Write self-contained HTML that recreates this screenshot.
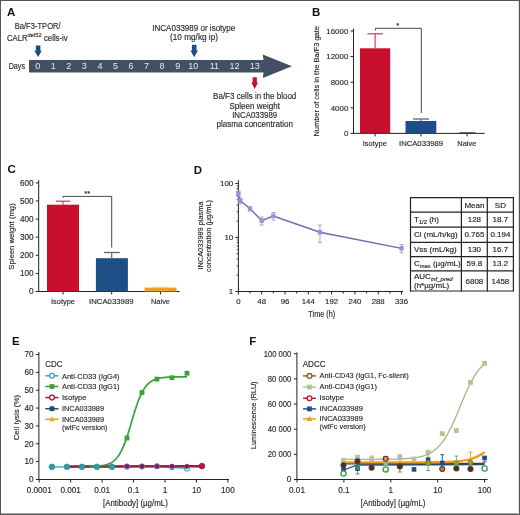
<!DOCTYPE html>
<html><head><meta charset="utf-8"><style>
html,body{margin:0;padding:0;background:#fff;}
body{width:520px;height:515px;overflow:hidden;font-family:"Liberation Sans", sans-serif;}
.frame{position:absolute;left:0;top:0;width:520px;height:515px;box-sizing:border-box;border:1px solid #555;}
.fb{position:absolute;left:0;top:513px;width:520px;height:1px;background:#aaa;}
.fr{position:absolute;left:518px;top:0;width:1px;height:515px;background:#ddd;}
svg{position:absolute;left:0;top:0;will-change:transform;}
</style></head><body>
<svg width="520" height="515" viewBox="0 0 520 515" font-family='"Liberation Sans", sans-serif'><text x="6.90" y="15.80" font-size="11.5" text-anchor="start" fill="#111" font-weight="bold" >A</text>
<text x="37.70" y="29.30" font-size="8.5" text-anchor="middle" fill="#2a2a2a" stroke="#2a2a2a" stroke-width="0.15" textLength="46" lengthAdjust="spacingAndGlyphs" >Ba/F3-TPOR/</text>
<text x="6.9" y="40.6" font-size="8.3" fill="#2a2a2a" stroke="#2a2a2a" stroke-width="0.15" textLength="60.8" lengthAdjust="spacingAndGlyphs">CALR<tspan font-size="6.2" dy="-3.3">del52</tspan><tspan dy="3.3"> cells-iv</tspan></text>
<path d="M35.80,45.60 L40.40,45.60 L40.40,50.73 L41.80,50.73 L38.10,57.00 L34.40,50.73 L35.80,50.73 Z" fill="#1d4f86" stroke="none" stroke-width="1" />
<path d="M29,60 L263.5,60 L262.8,54.4 L292,66.2 L262.8,78 L263.5,72.5 L29,72.5 Z" fill="#435063" stroke="none" stroke-width="1" />
<text x="8.70" y="69.20" font-size="8.3" text-anchor="start" fill="#2a2a2a" stroke="#2a2a2a" stroke-width="0.15" textLength="16.3" lengthAdjust="spacingAndGlyphs" >Days</text>
<text x="37.70" y="69.30" font-size="9" text-anchor="middle" fill="#e6e9ee" >0</text>
<text x="53.25" y="69.30" font-size="9" text-anchor="middle" fill="#e6e9ee" >1</text>
<text x="68.80" y="69.30" font-size="9" text-anchor="middle" fill="#e6e9ee" >2</text>
<text x="84.35" y="69.30" font-size="9" text-anchor="middle" fill="#e6e9ee" >3</text>
<text x="99.90" y="69.30" font-size="9" text-anchor="middle" fill="#e6e9ee" >4</text>
<text x="115.45" y="69.30" font-size="9" text-anchor="middle" fill="#e6e9ee" >5</text>
<text x="131.00" y="69.30" font-size="9" text-anchor="middle" fill="#e6e9ee" >6</text>
<text x="146.55" y="69.30" font-size="9" text-anchor="middle" fill="#e6e9ee" >7</text>
<text x="162.10" y="69.30" font-size="9" text-anchor="middle" fill="#e6e9ee" >8</text>
<text x="177.65" y="69.30" font-size="9" text-anchor="middle" fill="#e6e9ee" >9</text>
<text x="193.20" y="69.30" font-size="9" text-anchor="middle" fill="#e6e9ee" >10</text>
<text x="214.40" y="69.30" font-size="9" text-anchor="middle" fill="#e6e9ee" >11</text>
<text x="234.60" y="69.30" font-size="9" text-anchor="middle" fill="#e6e9ee" >12</text>
<text x="254.70" y="69.30" font-size="9" text-anchor="middle" fill="#e6e9ee" >13</text>
<text x="193.80" y="30.80" font-size="8.3" text-anchor="middle" fill="#2a2a2a" stroke="#2a2a2a" stroke-width="0.15" textLength="83" lengthAdjust="spacingAndGlyphs" >INCA033989 or isotype</text>
<text x="194.00" y="40.00" font-size="8.3" text-anchor="middle" fill="#2a2a2a" stroke="#2a2a2a" stroke-width="0.15" textLength="48" lengthAdjust="spacingAndGlyphs" >(10 mg/kg ip)</text>
<path d="M191.90,44.80 L196.50,44.80 L196.50,50.42 L197.90,50.42 L194.20,57.30 L190.50,50.42 L191.90,50.42 Z" fill="#1d4f86" stroke="none" stroke-width="1" />
<path d="M252.60,77.30 L256.80,77.30 L256.80,82.56 L258.00,82.56 L254.70,89.00 L251.40,82.56 L252.60,82.56 Z" fill="#c8102e" stroke="none" stroke-width="1" />
<text x="254.70" y="99.00" font-size="8.3" text-anchor="middle" fill="#2a2a2a" stroke="#2a2a2a" stroke-width="0.15" textLength="83.2" lengthAdjust="spacingAndGlyphs" >Ba/F3 cells in the blood</text>
<text x="254.70" y="109.20" font-size="8.3" text-anchor="middle" fill="#2a2a2a" stroke="#2a2a2a" stroke-width="0.15" textLength="50.4" lengthAdjust="spacingAndGlyphs" >Spleen weight</text>
<text x="254.70" y="118.20" font-size="8.3" text-anchor="middle" fill="#2a2a2a" stroke="#2a2a2a" stroke-width="0.15" textLength="45" lengthAdjust="spacingAndGlyphs" >INCA033989</text>
<text x="254.70" y="127.00" font-size="8.3" text-anchor="middle" fill="#2a2a2a" stroke="#2a2a2a" stroke-width="0.15" textLength="76.5" lengthAdjust="spacingAndGlyphs" >plasma concentration</text>
<text x="312.00" y="16.00" font-size="11.5" text-anchor="start" fill="#111" font-weight="bold" >B</text>
<line x1="353.50" y1="28.60" x2="353.50" y2="133.90" stroke="#222" stroke-width="1" />
<line x1="350.50" y1="133.40" x2="353.50" y2="133.40" stroke="#222" stroke-width="1" />
<text x="348.30" y="136.10" font-size="7.9" text-anchor="end" fill="#2a2a2a" stroke="#2a2a2a" stroke-width="0.15" >0</text>
<line x1="350.50" y1="107.80" x2="353.50" y2="107.80" stroke="#222" stroke-width="1" />
<text x="348.30" y="110.50" font-size="7.9" text-anchor="end" fill="#2a2a2a" stroke="#2a2a2a" stroke-width="0.15" >4000</text>
<line x1="350.50" y1="82.20" x2="353.50" y2="82.20" stroke="#222" stroke-width="1" />
<text x="348.30" y="84.90" font-size="7.9" text-anchor="end" fill="#2a2a2a" stroke="#2a2a2a" stroke-width="0.15" >8000</text>
<line x1="350.50" y1="56.60" x2="353.50" y2="56.60" stroke="#222" stroke-width="1" />
<text x="348.30" y="59.30" font-size="7.9" text-anchor="end" fill="#2a2a2a" stroke="#2a2a2a" stroke-width="0.15" >12000</text>
<line x1="350.50" y1="31.00" x2="353.50" y2="31.00" stroke="#222" stroke-width="1" />
<text x="348.30" y="33.70" font-size="7.9" text-anchor="end" fill="#2a2a2a" stroke="#2a2a2a" stroke-width="0.15" >16000</text>
<line x1="353.50" y1="133.40" x2="484.60" y2="133.40" stroke="#222" stroke-width="1" />
<line x1="375.10" y1="133.40" x2="375.10" y2="136.40" stroke="#222" stroke-width="1" />
<line x1="421.00" y1="133.40" x2="421.00" y2="136.40" stroke="#222" stroke-width="1" />
<line x1="467.00" y1="133.40" x2="467.00" y2="136.40" stroke="#222" stroke-width="1" />
<rect x="360.00" y="48.30" width="30.20" height="85.10" fill="#c8102e" />
<line x1="375.10" y1="48.30" x2="375.10" y2="33.80" stroke="#d4405e" stroke-width="1.2" />
<line x1="367.40" y1="33.80" x2="382.80" y2="33.80" stroke="#d4405e" stroke-width="1.3" />
<rect x="405.50" y="121.00" width="30.80" height="12.40" fill="#1d4f86" />
<line x1="421.00" y1="121.00" x2="421.00" y2="119.00" stroke="#56677f" stroke-width="1.2" />
<line x1="413.00" y1="119.00" x2="429.00" y2="119.00" stroke="#56677f" stroke-width="1.3" />
<line x1="459.40" y1="132.90" x2="475.40" y2="132.90" stroke="#333" stroke-width="1.2" />
<path d="M375.4,30.5 L375.4,28.3 L421.3,28.3 L421.3,113" fill="none" stroke="#333" stroke-width="0.9" />
<text x="397.60" y="28.00" font-size="7.5" text-anchor="middle" fill="#2a2a2a" stroke="#2a2a2a" stroke-width="0.15" >*</text>
<text x="374.80" y="146.00" font-size="7.5" text-anchor="middle" fill="#2a2a2a" stroke="#2a2a2a" stroke-width="0.15" textLength="24" lengthAdjust="spacingAndGlyphs" >Isotype</text>
<text x="421.00" y="146.00" font-size="7.5" text-anchor="middle" fill="#2a2a2a" stroke="#2a2a2a" stroke-width="0.15" textLength="44" lengthAdjust="spacingAndGlyphs" >INCA033989</text>
<text x="466.80" y="146.00" font-size="7.5" text-anchor="middle" fill="#2a2a2a" stroke="#2a2a2a" stroke-width="0.15" textLength="19" lengthAdjust="spacingAndGlyphs" >Naive</text>
<text x="318.90" y="81.30" font-size="8" text-anchor="middle" fill="#2a2a2a" stroke="#2a2a2a" stroke-width="0.15" textLength="110.5" lengthAdjust="spacingAndGlyphs" transform="rotate(-90 318.90 81.30)" >Number of cells in the Ba/F3 gate</text>
<text x="7.40" y="173.00" font-size="11.5" text-anchor="start" fill="#111" font-weight="bold" >C</text>
<line x1="38.70" y1="180.20" x2="38.70" y2="292.00" stroke="#222" stroke-width="1" />
<line x1="35.70" y1="291.50" x2="38.70" y2="291.50" stroke="#222" stroke-width="1" />
<text x="33.60" y="294.30" font-size="8.2" text-anchor="end" fill="#2a2a2a" stroke="#2a2a2a" stroke-width="0.15" >0</text>
<line x1="35.70" y1="273.40" x2="38.70" y2="273.40" stroke="#222" stroke-width="1" />
<text x="33.60" y="276.20" font-size="8.2" text-anchor="end" fill="#2a2a2a" stroke="#2a2a2a" stroke-width="0.15" >100</text>
<line x1="35.70" y1="255.30" x2="38.70" y2="255.30" stroke="#222" stroke-width="1" />
<text x="33.60" y="258.10" font-size="8.2" text-anchor="end" fill="#2a2a2a" stroke="#2a2a2a" stroke-width="0.15" >200</text>
<line x1="35.70" y1="237.20" x2="38.70" y2="237.20" stroke="#222" stroke-width="1" />
<text x="33.60" y="240.00" font-size="8.2" text-anchor="end" fill="#2a2a2a" stroke="#2a2a2a" stroke-width="0.15" >300</text>
<line x1="35.70" y1="219.10" x2="38.70" y2="219.10" stroke="#222" stroke-width="1" />
<text x="33.60" y="221.90" font-size="8.2" text-anchor="end" fill="#2a2a2a" stroke="#2a2a2a" stroke-width="0.15" >400</text>
<line x1="35.70" y1="201.00" x2="38.70" y2="201.00" stroke="#222" stroke-width="1" />
<text x="33.60" y="203.80" font-size="8.2" text-anchor="end" fill="#2a2a2a" stroke="#2a2a2a" stroke-width="0.15" >500</text>
<line x1="35.70" y1="182.90" x2="38.70" y2="182.90" stroke="#222" stroke-width="1" />
<text x="33.60" y="185.70" font-size="8.2" text-anchor="end" fill="#2a2a2a" stroke="#2a2a2a" stroke-width="0.15" >600</text>
<line x1="38.70" y1="291.50" x2="179.60" y2="291.50" stroke="#222" stroke-width="1" />
<line x1="63.00" y1="291.50" x2="63.00" y2="294.50" stroke="#222" stroke-width="1" />
<line x1="111.70" y1="291.50" x2="111.70" y2="294.50" stroke="#222" stroke-width="1" />
<line x1="160.50" y1="291.50" x2="160.50" y2="294.50" stroke="#222" stroke-width="1" />
<rect x="47.00" y="204.70" width="32.00" height="86.80" fill="#c8102e" />
<line x1="63.00" y1="204.70" x2="63.00" y2="201.10" stroke="#d4405e" stroke-width="1.2" />
<line x1="55.80" y1="201.20" x2="70.40" y2="201.20" stroke="#d4405e" stroke-width="1.3" />
<rect x="95.90" y="258.20" width="32.00" height="33.30" fill="#1d4f86" />
<line x1="111.70" y1="258.20" x2="111.70" y2="252.50" stroke="#56677f" stroke-width="1.2" />
<line x1="104.00" y1="252.50" x2="119.80" y2="252.50" stroke="#56677f" stroke-width="1.3" />
<rect x="144.60" y="287.60" width="31.90" height="3.90" fill="#eea024" />
<line x1="152.30" y1="287.20" x2="168.70" y2="287.20" stroke="#f3c070" stroke-width="0.8" />
<path d="M63,197.8 L63,196.4 L111.7,196.4 L111.7,247.6" fill="none" stroke="#333" stroke-width="0.9" />
<text x="87.20" y="196.00" font-size="7.5" text-anchor="middle" fill="#2a2a2a" stroke="#2a2a2a" stroke-width="0.15" >**</text>
<text x="63.00" y="304.40" font-size="7.5" text-anchor="middle" fill="#2a2a2a" stroke="#2a2a2a" stroke-width="0.15" textLength="24" lengthAdjust="spacingAndGlyphs" >Isotype</text>
<text x="111.30" y="304.40" font-size="7.5" text-anchor="middle" fill="#2a2a2a" stroke="#2a2a2a" stroke-width="0.15" textLength="44.5" lengthAdjust="spacingAndGlyphs" >INCA033989</text>
<text x="160.50" y="304.40" font-size="7.5" text-anchor="middle" fill="#2a2a2a" stroke="#2a2a2a" stroke-width="0.15" textLength="19" lengthAdjust="spacingAndGlyphs" >Naive</text>
<text x="14.20" y="236.50" font-size="8" text-anchor="middle" fill="#2a2a2a" stroke="#2a2a2a" stroke-width="0.15" textLength="66.4" lengthAdjust="spacingAndGlyphs" transform="rotate(-90 14.20 236.50)" >Spleen weight (mg)</text>
<text x="193.80" y="173.50" font-size="11.5" text-anchor="start" fill="#111" font-weight="bold" >D</text>
<line x1="238.40" y1="180.20" x2="238.40" y2="292.00" stroke="#222" stroke-width="1" />
<line x1="235.40" y1="291.50" x2="238.40" y2="291.50" stroke="#222" stroke-width="1" />
<line x1="235.40" y1="237.50" x2="238.40" y2="237.50" stroke="#222" stroke-width="1" />
<line x1="235.40" y1="183.50" x2="238.40" y2="183.50" stroke="#222" stroke-width="1" />
<line x1="236.60" y1="275.24" x2="238.40" y2="275.24" stroke="#222" stroke-width="0.8" />
<line x1="236.60" y1="265.74" x2="238.40" y2="265.74" stroke="#222" stroke-width="0.8" />
<line x1="236.60" y1="258.99" x2="238.40" y2="258.99" stroke="#222" stroke-width="0.8" />
<line x1="236.60" y1="253.76" x2="238.40" y2="253.76" stroke="#222" stroke-width="0.8" />
<line x1="236.60" y1="249.48" x2="238.40" y2="249.48" stroke="#222" stroke-width="0.8" />
<line x1="236.60" y1="245.86" x2="238.40" y2="245.86" stroke="#222" stroke-width="0.8" />
<line x1="236.60" y1="242.73" x2="238.40" y2="242.73" stroke="#222" stroke-width="0.8" />
<line x1="236.60" y1="239.97" x2="238.40" y2="239.97" stroke="#222" stroke-width="0.8" />
<line x1="236.60" y1="221.24" x2="238.40" y2="221.24" stroke="#222" stroke-width="0.8" />
<line x1="236.60" y1="211.74" x2="238.40" y2="211.74" stroke="#222" stroke-width="0.8" />
<line x1="236.60" y1="204.99" x2="238.40" y2="204.99" stroke="#222" stroke-width="0.8" />
<line x1="236.60" y1="199.76" x2="238.40" y2="199.76" stroke="#222" stroke-width="0.8" />
<line x1="236.60" y1="195.48" x2="238.40" y2="195.48" stroke="#222" stroke-width="0.8" />
<line x1="236.60" y1="191.86" x2="238.40" y2="191.86" stroke="#222" stroke-width="0.8" />
<line x1="236.60" y1="188.73" x2="238.40" y2="188.73" stroke="#222" stroke-width="0.8" />
<line x1="236.60" y1="185.97" x2="238.40" y2="185.97" stroke="#222" stroke-width="0.8" />
<text x="233.30" y="186.30" font-size="8" text-anchor="end" fill="#2a2a2a" stroke="#2a2a2a" stroke-width="0.15" >100</text>
<text x="233.30" y="240.30" font-size="8" text-anchor="end" fill="#2a2a2a" stroke="#2a2a2a" stroke-width="0.15" >10</text>
<text x="233.30" y="294.30" font-size="8" text-anchor="end" fill="#2a2a2a" stroke="#2a2a2a" stroke-width="0.15" >1</text>
<line x1="238.40" y1="291.50" x2="403.00" y2="291.50" stroke="#222" stroke-width="1" />
<line x1="238.40" y1="291.50" x2="238.40" y2="294.50" stroke="#222" stroke-width="1" />
<text x="238.40" y="304.40" font-size="7.8" text-anchor="middle" fill="#2a2a2a" stroke="#2a2a2a" stroke-width="0.15" >0</text>
<line x1="250.05" y1="291.50" x2="250.05" y2="293.50" stroke="#222" stroke-width="1" />
<line x1="261.70" y1="291.50" x2="261.70" y2="294.50" stroke="#222" stroke-width="1" />
<text x="261.70" y="304.40" font-size="7.8" text-anchor="middle" fill="#2a2a2a" stroke="#2a2a2a" stroke-width="0.15" >48</text>
<line x1="273.35" y1="291.50" x2="273.35" y2="293.50" stroke="#222" stroke-width="1" />
<line x1="285.00" y1="291.50" x2="285.00" y2="294.50" stroke="#222" stroke-width="1" />
<text x="285.00" y="304.40" font-size="7.8" text-anchor="middle" fill="#2a2a2a" stroke="#2a2a2a" stroke-width="0.15" >96</text>
<line x1="296.65" y1="291.50" x2="296.65" y2="293.50" stroke="#222" stroke-width="1" />
<line x1="308.30" y1="291.50" x2="308.30" y2="294.50" stroke="#222" stroke-width="1" />
<text x="308.30" y="304.40" font-size="7.8" text-anchor="middle" fill="#2a2a2a" stroke="#2a2a2a" stroke-width="0.15" >144</text>
<line x1="319.95" y1="291.50" x2="319.95" y2="293.50" stroke="#222" stroke-width="1" />
<line x1="331.60" y1="291.50" x2="331.60" y2="294.50" stroke="#222" stroke-width="1" />
<text x="331.60" y="304.40" font-size="7.8" text-anchor="middle" fill="#2a2a2a" stroke="#2a2a2a" stroke-width="0.15" >192</text>
<line x1="343.25" y1="291.50" x2="343.25" y2="293.50" stroke="#222" stroke-width="1" />
<line x1="354.90" y1="291.50" x2="354.90" y2="294.50" stroke="#222" stroke-width="1" />
<text x="354.90" y="304.40" font-size="7.8" text-anchor="middle" fill="#2a2a2a" stroke="#2a2a2a" stroke-width="0.15" >240</text>
<line x1="366.55" y1="291.50" x2="366.55" y2="293.50" stroke="#222" stroke-width="1" />
<line x1="378.20" y1="291.50" x2="378.20" y2="294.50" stroke="#222" stroke-width="1" />
<text x="378.20" y="304.40" font-size="7.8" text-anchor="middle" fill="#2a2a2a" stroke="#2a2a2a" stroke-width="0.15" >288</text>
<line x1="389.85" y1="291.50" x2="389.85" y2="293.50" stroke="#222" stroke-width="1" />
<line x1="401.50" y1="291.50" x2="401.50" y2="294.50" stroke="#222" stroke-width="1" />
<text x="401.50" y="304.40" font-size="7.8" text-anchor="middle" fill="#2a2a2a" stroke="#2a2a2a" stroke-width="0.15" >336</text>
<text x="321.80" y="316.70" font-size="8.7" text-anchor="middle" fill="#2a2a2a" stroke="#2a2a2a" stroke-width="0.15" textLength="27" lengthAdjust="spacingAndGlyphs" >Time (h)</text>
<text x="202.80" y="235.50" font-size="7.8" text-anchor="middle" fill="#2a2a2a" stroke="#2a2a2a" stroke-width="0.15" textLength="68" lengthAdjust="spacingAndGlyphs" transform="rotate(-90 202.80 235.50)" >INCA033989 plasma</text>
<text x="210.60" y="236.00" font-size="7.8" text-anchor="middle" fill="#2a2a2a" stroke="#2a2a2a" stroke-width="0.15" textLength="72" lengthAdjust="spacingAndGlyphs" transform="rotate(-90 210.60 236.00)" >concentration (µg/mL)</text>
<path d="M238.40,193.60 L240.34,200.71 L250.05,208.80 L261.70,220.67 L273.35,216.01 L319.95,232.27 L401.50,248.34" fill="none" stroke="#6a6aae" stroke-width="1.4" />
<line x1="238.40" y1="190.88" x2="238.40" y2="196.68" stroke="#9a9ad6" stroke-width="0.9" />
<line x1="236.40" y1="190.88" x2="240.40" y2="190.88" stroke="#9a9ad6" stroke-width="0.9" />
<line x1="236.40" y1="196.68" x2="240.40" y2="196.68" stroke="#9a9ad6" stroke-width="0.9" />
<rect x="236.20" y="191.40" width="4.40" height="4.40" fill="#9494d6" />
<line x1="240.34" y1="197.95" x2="240.34" y2="203.84" stroke="#9a9ad6" stroke-width="0.9" />
<line x1="238.34" y1="197.95" x2="242.34" y2="197.95" stroke="#9a9ad6" stroke-width="0.9" />
<line x1="238.34" y1="203.84" x2="242.34" y2="203.84" stroke="#9a9ad6" stroke-width="0.9" />
<rect x="238.14" y="198.51" width="4.40" height="4.40" fill="#9494d6" />
<line x1="250.05" y1="206.82" x2="250.05" y2="210.97" stroke="#9a9ad6" stroke-width="0.9" />
<line x1="248.05" y1="206.82" x2="252.05" y2="206.82" stroke="#9a9ad6" stroke-width="0.9" />
<line x1="248.05" y1="210.97" x2="252.05" y2="210.97" stroke="#9a9ad6" stroke-width="0.9" />
<rect x="247.85" y="206.60" width="4.40" height="4.40" fill="#9494d6" />
<line x1="261.70" y1="216.97" x2="261.70" y2="225.06" stroke="#9a9ad6" stroke-width="0.9" />
<line x1="259.70" y1="216.97" x2="263.70" y2="216.97" stroke="#9a9ad6" stroke-width="0.9" />
<line x1="259.70" y1="225.06" x2="263.70" y2="225.06" stroke="#9a9ad6" stroke-width="0.9" />
<rect x="259.50" y="218.47" width="4.40" height="4.40" fill="#9494d6" />
<line x1="273.35" y1="212.53" x2="273.35" y2="220.10" stroke="#9a9ad6" stroke-width="0.9" />
<line x1="271.35" y1="212.53" x2="275.35" y2="212.53" stroke="#9a9ad6" stroke-width="0.9" />
<line x1="271.35" y1="220.10" x2="275.35" y2="220.10" stroke="#9a9ad6" stroke-width="0.9" />
<rect x="271.15" y="213.81" width="4.40" height="4.40" fill="#9494d6" />
<line x1="319.95" y1="225.06" x2="319.95" y2="242.73" stroke="#9a9ad6" stroke-width="0.9" />
<line x1="317.95" y1="225.06" x2="321.95" y2="225.06" stroke="#9a9ad6" stroke-width="0.9" />
<line x1="317.95" y1="242.73" x2="321.95" y2="242.73" stroke="#9a9ad6" stroke-width="0.9" />
<rect x="317.75" y="230.07" width="4.40" height="4.40" fill="#9494d6" />
<line x1="401.50" y1="244.56" x2="401.50" y2="252.84" stroke="#9a9ad6" stroke-width="0.9" />
<line x1="399.50" y1="244.56" x2="403.50" y2="244.56" stroke="#9a9ad6" stroke-width="0.9" />
<line x1="399.50" y1="252.84" x2="403.50" y2="252.84" stroke="#9a9ad6" stroke-width="0.9" />
<rect x="399.30" y="246.14" width="4.40" height="4.40" fill="#9494d6" />
<line x1="410.50" y1="197.10" x2="410.50" y2="291.60" stroke="#222" stroke-width="1.2" />
<line x1="461.40" y1="197.10" x2="461.40" y2="291.60" stroke="#222" stroke-width="1.2" />
<line x1="487.30" y1="197.10" x2="487.30" y2="291.60" stroke="#222" stroke-width="1.2" />
<line x1="513.40" y1="197.10" x2="513.40" y2="291.60" stroke="#222" stroke-width="1.2" />
<line x1="410.50" y1="197.70" x2="513.40" y2="197.70" stroke="#222" stroke-width="1.2" />
<line x1="410.50" y1="212.10" x2="513.40" y2="212.10" stroke="#222" stroke-width="1.2" />
<line x1="410.50" y1="227.20" x2="513.40" y2="227.20" stroke="#222" stroke-width="1.2" />
<line x1="410.50" y1="242.30" x2="513.40" y2="242.30" stroke="#222" stroke-width="1.2" />
<line x1="410.50" y1="256.60" x2="513.40" y2="256.60" stroke="#222" stroke-width="1.2" />
<line x1="410.50" y1="270.80" x2="513.40" y2="270.80" stroke="#222" stroke-width="1.2" />
<line x1="410.50" y1="291.00" x2="513.40" y2="291.00" stroke="#222" stroke-width="1.2" />
<text x="474.40" y="208.00" font-size="8" text-anchor="middle" fill="#222" stroke="#222" stroke-width="0.15" >Mean</text>
<text x="500.40" y="208.00" font-size="8" text-anchor="middle" fill="#222" stroke="#222" stroke-width="0.15" >SD</text>
<text x="414.00" y="222.35" font-size="8" text-anchor="start" fill="#222" stroke="#222" stroke-width="0.15" >T<tspan font-size="5.8" dy="1.8">1/2</tspan><tspan dy="-1.8"> (h)</tspan></text>
<text x="474.40" y="222.35" font-size="8" text-anchor="middle" fill="#222" stroke="#222" stroke-width="0.15" >128</text>
<text x="500.40" y="222.35" font-size="8" text-anchor="middle" fill="#222" stroke="#222" stroke-width="0.15" >18.7</text>
<text x="414.00" y="237.45" font-size="8" text-anchor="start" fill="#222" stroke="#222" stroke-width="0.15" >Cl (mL/h/kg)</text>
<text x="474.40" y="237.45" font-size="8" text-anchor="middle" fill="#222" stroke="#222" stroke-width="0.15" >0.765</text>
<text x="500.40" y="237.45" font-size="8" text-anchor="middle" fill="#222" stroke="#222" stroke-width="0.15" >0.194</text>
<text x="414.00" y="252.15" font-size="8" text-anchor="start" fill="#222" stroke="#222" stroke-width="0.15" >Vss (mL/kg)</text>
<text x="474.40" y="252.15" font-size="8" text-anchor="middle" fill="#222" stroke="#222" stroke-width="0.15" >130</text>
<text x="500.40" y="252.15" font-size="8" text-anchor="middle" fill="#222" stroke="#222" stroke-width="0.15" >16.7</text>
<text x="414.00" y="266.40" font-size="8" text-anchor="start" fill="#222" stroke="#222" stroke-width="0.15" >C<tspan font-size="5.8" dy="1.8">max</tspan><tspan dy="-1.8"> (µg/mL)</tspan></text>
<text x="474.40" y="266.40" font-size="8" text-anchor="middle" fill="#222" stroke="#222" stroke-width="0.15" >59.8</text>
<text x="500.40" y="266.40" font-size="8" text-anchor="middle" fill="#222" stroke="#222" stroke-width="0.15" >13.2</text>
<text x="414.00" y="279.20" font-size="8" text-anchor="start" fill="#222" stroke="#222" stroke-width="0.15" >AUC<tspan font-size="6" dy="1.6" font-style="italic">inf_pred</tspan></text>
<text x="414.00" y="288.00" font-size="8" text-anchor="start" fill="#222" stroke="#222" stroke-width="0.15" >(h*µg/mL)</text>
<text x="474.40" y="283.50" font-size="8" text-anchor="middle" fill="#222" stroke="#222" stroke-width="0.15" >6808</text>
<text x="500.40" y="283.50" font-size="8" text-anchor="middle" fill="#222" stroke="#222" stroke-width="0.15" >1458</text>
<text x="12.00" y="344.50" font-size="11.5" text-anchor="start" fill="#111" font-weight="bold" >E</text>
<line x1="38.90" y1="352.00" x2="38.90" y2="480.00" stroke="#222" stroke-width="1" />
<line x1="35.90" y1="479.50" x2="38.90" y2="479.50" stroke="#222" stroke-width="1" />
<text x="33.60" y="482.30" font-size="8.2" text-anchor="end" fill="#2a2a2a" stroke="#2a2a2a" stroke-width="0.15" >0</text>
<line x1="35.90" y1="461.64" x2="38.90" y2="461.64" stroke="#222" stroke-width="1" />
<text x="33.60" y="464.44" font-size="8.2" text-anchor="end" fill="#2a2a2a" stroke="#2a2a2a" stroke-width="0.15" >10</text>
<line x1="35.90" y1="443.78" x2="38.90" y2="443.78" stroke="#222" stroke-width="1" />
<text x="33.60" y="446.58" font-size="8.2" text-anchor="end" fill="#2a2a2a" stroke="#2a2a2a" stroke-width="0.15" >20</text>
<line x1="35.90" y1="425.92" x2="38.90" y2="425.92" stroke="#222" stroke-width="1" />
<text x="33.60" y="428.72" font-size="8.2" text-anchor="end" fill="#2a2a2a" stroke="#2a2a2a" stroke-width="0.15" >30</text>
<line x1="35.90" y1="408.06" x2="38.90" y2="408.06" stroke="#222" stroke-width="1" />
<text x="33.60" y="410.86" font-size="8.2" text-anchor="end" fill="#2a2a2a" stroke="#2a2a2a" stroke-width="0.15" >40</text>
<line x1="35.90" y1="390.20" x2="38.90" y2="390.20" stroke="#222" stroke-width="1" />
<text x="33.60" y="393.00" font-size="8.2" text-anchor="end" fill="#2a2a2a" stroke="#2a2a2a" stroke-width="0.15" >50</text>
<line x1="35.90" y1="372.34" x2="38.90" y2="372.34" stroke="#222" stroke-width="1" />
<text x="33.60" y="375.14" font-size="8.2" text-anchor="end" fill="#2a2a2a" stroke="#2a2a2a" stroke-width="0.15" >60</text>
<line x1="35.90" y1="354.48" x2="38.90" y2="354.48" stroke="#222" stroke-width="1" />
<text x="33.60" y="357.28" font-size="8.2" text-anchor="end" fill="#2a2a2a" stroke="#2a2a2a" stroke-width="0.15" >70</text>
<line x1="38.90" y1="479.50" x2="229.00" y2="479.50" stroke="#222" stroke-width="1" />
<line x1="39.20" y1="479.50" x2="39.20" y2="482.50" stroke="#222" stroke-width="1" />
<text x="39.20" y="492.60" font-size="8.2" text-anchor="middle" fill="#2a2a2a" stroke="#2a2a2a" stroke-width="0.15" >0.0001</text>
<line x1="70.65" y1="479.50" x2="70.65" y2="482.50" stroke="#222" stroke-width="1" />
<text x="70.65" y="492.60" font-size="8.2" text-anchor="middle" fill="#2a2a2a" stroke="#2a2a2a" stroke-width="0.15" >0.001</text>
<line x1="102.10" y1="479.50" x2="102.10" y2="482.50" stroke="#222" stroke-width="1" />
<text x="102.10" y="492.60" font-size="8.2" text-anchor="middle" fill="#2a2a2a" stroke="#2a2a2a" stroke-width="0.15" >0.01</text>
<line x1="133.55" y1="479.50" x2="133.55" y2="482.50" stroke="#222" stroke-width="1" />
<text x="133.55" y="492.60" font-size="8.2" text-anchor="middle" fill="#2a2a2a" stroke="#2a2a2a" stroke-width="0.15" >0.1</text>
<line x1="165.00" y1="479.50" x2="165.00" y2="482.50" stroke="#222" stroke-width="1" />
<text x="165.00" y="492.60" font-size="8.2" text-anchor="middle" fill="#2a2a2a" stroke="#2a2a2a" stroke-width="0.15" >1</text>
<line x1="196.45" y1="479.50" x2="196.45" y2="482.50" stroke="#222" stroke-width="1" />
<text x="196.45" y="492.60" font-size="8.2" text-anchor="middle" fill="#2a2a2a" stroke="#2a2a2a" stroke-width="0.15" >10</text>
<line x1="227.90" y1="479.50" x2="227.90" y2="482.50" stroke="#222" stroke-width="1" />
<text x="227.90" y="492.60" font-size="8.2" text-anchor="middle" fill="#2a2a2a" stroke="#2a2a2a" stroke-width="0.15" >100</text>
<text x="135.40" y="505.90" font-size="8.2" text-anchor="middle" fill="#2a2a2a" stroke="#2a2a2a" stroke-width="0.15" textLength="64.8" lengthAdjust="spacingAndGlyphs" >[Antibody] (µg/mL)</text>
<text x="19.20" y="417.60" font-size="8" text-anchor="middle" fill="#2a2a2a" stroke="#2a2a2a" stroke-width="0.15" textLength="45.4" lengthAdjust="spacingAndGlyphs" transform="rotate(-90 19.20 417.60)" >Cell lysis (%)</text>
<text x="45.30" y="367.30" font-size="8.3" text-anchor="start" fill="#2a2a2a" stroke="#2a2a2a" stroke-width="0.15" textLength="17.2" lengthAdjust="spacingAndGlyphs" >CDC</text>
<line x1="45.30" y1="375.80" x2="58.50" y2="375.80" stroke="#3a9fd9" stroke-width="1.5" />
<circle cx="52.00" cy="375.80" r="2.4" fill="#fff" stroke="#3a9fd9" stroke-width="1.3"/>
<text x="62.00" y="378.50" font-size="8" text-anchor="start" fill="#2a2a2a" stroke="#2a2a2a" stroke-width="0.15" textLength="57.5" lengthAdjust="spacingAndGlyphs" >Anti-CD33 (IgG4)</text>
<line x1="45.30" y1="386.50" x2="58.50" y2="386.50" stroke="#3aa13a" stroke-width="1.5" />
<rect x="49.60" y="384.10" width="4.80" height="4.80" fill="#3aa13a" />
<text x="62.00" y="389.20" font-size="8" text-anchor="start" fill="#2a2a2a" stroke="#2a2a2a" stroke-width="0.15" textLength="57.5" lengthAdjust="spacingAndGlyphs" >Anti-CD33 (IgG1)</text>
<line x1="45.30" y1="397.60" x2="58.50" y2="397.60" stroke="#b8143c" stroke-width="1.5" />
<circle cx="52.00" cy="397.60" r="2.4" fill="#fff" stroke="#b8143c" stroke-width="1.3"/>
<text x="62.00" y="400.30" font-size="8" text-anchor="start" fill="#2a2a2a" stroke="#2a2a2a" stroke-width="0.15" textLength="24.5" lengthAdjust="spacingAndGlyphs" >Isotype</text>
<line x1="45.30" y1="408.70" x2="58.50" y2="408.70" stroke="#1d4a7c" stroke-width="1.5" />
<rect x="49.60" y="406.30" width="4.80" height="4.80" fill="#1d4a7c" />
<text x="62.00" y="411.40" font-size="8" text-anchor="start" fill="#2a2a2a" stroke="#2a2a2a" stroke-width="0.15" textLength="42" lengthAdjust="spacingAndGlyphs" >INCA033989</text>
<line x1="45.30" y1="419.20" x2="58.50" y2="419.20" stroke="#f2a12c" stroke-width="1.5" />
<path d="M49.12,421.36 L54.88,421.36 L52.00,416.32 Z" fill="#f2a12c" stroke="none" stroke-width="1" />
<text x="62.00" y="421.90" font-size="8" text-anchor="start" fill="#2a2a2a" stroke="#2a2a2a" stroke-width="0.15" textLength="42" lengthAdjust="spacingAndGlyphs" >INCA033989</text>
<text x="62.00" y="429.90" font-size="8" text-anchor="start" fill="#2a2a2a" stroke="#2a2a2a" stroke-width="0.15" textLength="45.5" lengthAdjust="spacingAndGlyphs" >(wtFc version)</text>
<line x1="66.94" y1="466.64" x2="186.98" y2="466.46" stroke="#1d4a7c" stroke-width="1.0" />
<path d="M51.93,467.00 L66.94,466.82 L81.94,466.64 L96.95,467.00 L111.96,466.82 L126.96,466.64 L141.97,466.46 L156.97,466.28 L171.98,467.36 L186.98,468.43" fill="none" stroke="#36a9c9" stroke-width="1.3" />
<line x1="66.94" y1="466.46" x2="201.99" y2="466.28" stroke="#9e1840" stroke-width="2.4" />
<path d="M89.58,466.48 L90.07,466.47 L90.56,466.45 L91.05,466.44 L91.54,466.42 L92.03,466.41 L92.52,466.39 L93.01,466.37 L93.50,466.35 L93.99,466.33 L94.48,466.30 L94.97,466.28 L95.46,466.25 L95.95,466.22 L96.44,466.19 L96.93,466.15 L97.42,466.12 L97.91,466.08 L98.39,466.03 L98.88,465.99 L99.37,465.94 L99.86,465.89 L100.35,465.83 L100.84,465.77 L101.33,465.70 L101.82,465.63 L102.31,465.55 L102.80,465.47 L103.29,465.39 L103.78,465.29 L104.27,465.19 L104.76,465.08 L105.25,464.96 L105.74,464.84 L106.23,464.70 L106.72,464.56 L107.20,464.41 L107.69,464.24 L108.18,464.06 L108.67,463.87 L109.16,463.67 L109.65,463.45 L110.14,463.22 L110.63,462.97 L111.12,462.70 L111.61,462.41 L112.10,462.10 L112.59,461.78 L113.08,461.43 L113.57,461.06 L114.06,460.66 L114.55,460.23 L115.04,459.78 L115.52,459.30 L116.01,458.79 L116.50,458.25 L116.99,457.68 L117.48,457.07 L117.97,456.42 L118.46,455.73 L118.95,455.01 L119.44,454.25 L119.93,453.44 L120.42,452.59 L120.91,451.70 L121.40,450.76 L121.89,449.78 L122.38,448.75 L122.87,447.67 L123.36,446.55 L123.85,445.38 L124.33,444.17 L124.82,442.90 L125.31,441.60 L125.80,440.25 L126.29,438.86 L126.78,437.43 L127.27,435.97 L127.76,434.47 L128.25,432.93 L128.74,431.37 L129.23,429.79 L129.72,428.18 L130.21,426.56 L130.70,424.92 L131.19,423.28 L131.68,421.63 L132.17,419.98 L132.66,418.33 L133.14,416.70 L133.63,415.08 L134.12,413.47 L134.61,411.89 L135.10,410.33 L135.59,408.80 L136.08,407.31 L136.57,405.84 L137.06,404.42 L137.55,403.04 L138.04,401.69 L138.53,400.39 L139.02,399.14 L139.51,397.93 L140.00,396.76 L140.49,395.65 L140.98,394.58 L141.47,393.55 L141.95,392.57 L142.44,391.64 L142.93,390.75 L143.42,389.91 L143.91,389.11 L144.40,388.35 L144.89,387.63 L145.38,386.95 L145.87,386.31 L146.36,385.70 L146.85,385.13 L147.34,384.59 L147.83,384.08 L148.32,383.61 L148.81,383.16 L149.30,382.74 L149.79,382.35 L150.27,381.98 L150.76,381.63 L151.25,381.30 L151.74,381.00 L152.23,380.72 L152.72,380.45 L153.21,380.20 L153.70,379.97 L154.19,379.75 L154.68,379.55 L155.17,379.36 L155.66,379.19 L156.15,379.02 L156.64,378.87 L157.13,378.72 L157.62,378.59 L158.11,378.47 L158.60,378.35 L159.08,378.24 L159.57,378.14 L160.06,378.05 L160.55,377.96 L161.04,377.88 L161.53,377.81 L162.02,377.74 L162.51,377.67 L163.00,377.61 L163.49,377.55 L163.98,377.50 L164.47,377.45 L164.96,377.41 L165.45,377.36 L165.94,377.32 L166.43,377.29 L166.92,377.25 L167.41,377.22 L167.89,377.19 L168.38,377.17 L168.87,377.14 L169.36,377.12 L169.85,377.09 L170.34,377.07 L170.83,377.06 L171.32,377.04 L171.81,377.02 L172.30,377.01 L172.79,376.99 L173.28,376.98 L173.77,376.97 L174.26,376.95 L174.75,376.94 L175.24,376.93 L175.73,376.93 L176.22,376.92 L176.70,376.91 L177.19,376.90 L177.68,376.89 L178.17,376.89 L178.66,376.88 L179.15,376.88 L179.64,376.87 L180.13,376.87 L180.62,376.86 L181.11,376.86 L181.60,376.85 L182.09,376.85 L182.58,376.85 L183.07,376.84 L183.56,376.84 L184.05,376.84 L184.54,376.84 L185.02,376.83 L185.51,376.83 L186.00,376.83 L186.49,376.83 L186.98,376.83" fill="none" stroke="#3aa13a" stroke-width="1.7" />
<circle cx="51.93" cy="466.82" r="2.8" fill="#339e9c" stroke="#2d8fa8" stroke-width="0.9"/>
<circle cx="66.94" cy="466.82" r="2.8" fill="#339e9c" stroke="#2d8fa8" stroke-width="0.9"/>
<circle cx="81.94" cy="466.82" r="2.8" fill="#339e9c" stroke="#2d8fa8" stroke-width="0.9"/>
<circle cx="96.95" cy="466.82" r="2.8" fill="#339e9c" stroke="#2d8fa8" stroke-width="0.9"/>
<circle cx="111.96" cy="466.82" r="2.8" fill="#339e9c" stroke="#2d8fa8" stroke-width="0.9"/>
<circle cx="126.96" cy="466.64" r="2.5" fill="none" stroke="#3a9fd9" stroke-width="1.1"/>
<circle cx="126.96" cy="466.28" r="2.1" fill="#5a2a6a" stroke="#b8143c" stroke-width="0.9"/>
<circle cx="141.97" cy="466.46" r="2.5" fill="none" stroke="#3a9fd9" stroke-width="1.1"/>
<circle cx="141.97" cy="466.28" r="2.1" fill="#5a2a6a" stroke="#b8143c" stroke-width="0.9"/>
<circle cx="156.97" cy="466.28" r="2.5" fill="none" stroke="#3a9fd9" stroke-width="1.1"/>
<circle cx="156.97" cy="466.28" r="2.1" fill="#5a2a6a" stroke="#b8143c" stroke-width="0.9"/>
<circle cx="171.98" cy="467.36" r="2.5" fill="none" stroke="#3a9fd9" stroke-width="1.1"/>
<circle cx="171.98" cy="466.28" r="2.1" fill="#5a2a6a" stroke="#b8143c" stroke-width="0.9"/>
<circle cx="186.98" cy="468.43" r="2.5" fill="none" stroke="#3a9fd9" stroke-width="1.1"/>
<circle cx="186.98" cy="466.28" r="2.1" fill="#5a2a6a" stroke="#b8143c" stroke-width="0.9"/>
<circle cx="201.99" cy="466.11" r="2.8" fill="#b8143c" stroke="#9a1030" stroke-width="0.8"/>
<rect x="184.58" y="370.83" width="4.80" height="4.80" fill="#3aa13a" />
<rect x="169.58" y="375.30" width="4.80" height="4.80" fill="#3aa13a" />
<rect x="154.57" y="376.73" width="4.80" height="4.80" fill="#3aa13a" />
<rect x="139.57" y="390.12" width="4.80" height="4.80" fill="#3aa13a" />
<rect x="124.56" y="435.66" width="4.80" height="4.80" fill="#3aa13a" />
<text x="249.30" y="344.60" font-size="11.5" text-anchor="start" fill="#111" font-weight="bold" >F</text>
<line x1="296.90" y1="352.40" x2="296.90" y2="480.00" stroke="#222" stroke-width="1" />
<line x1="293.90" y1="479.50" x2="296.90" y2="479.50" stroke="#222" stroke-width="1" />
<text x="291.30" y="482.30" font-size="8.2" text-anchor="end" fill="#2a2a2a" stroke="#2a2a2a" stroke-width="0.15" >0</text>
<line x1="293.90" y1="454.35" x2="296.90" y2="454.35" stroke="#222" stroke-width="1" />
<text x="291.30" y="457.15" font-size="8.2" text-anchor="end" fill="#2a2a2a" stroke="#2a2a2a" stroke-width="0.15" textLength="23.5" lengthAdjust="spacingAndGlyphs" >20 000</text>
<line x1="293.90" y1="429.20" x2="296.90" y2="429.20" stroke="#222" stroke-width="1" />
<text x="291.30" y="432.00" font-size="8.2" text-anchor="end" fill="#2a2a2a" stroke="#2a2a2a" stroke-width="0.15" textLength="23.5" lengthAdjust="spacingAndGlyphs" >40 000</text>
<line x1="293.90" y1="404.05" x2="296.90" y2="404.05" stroke="#222" stroke-width="1" />
<text x="291.30" y="406.85" font-size="8.2" text-anchor="end" fill="#2a2a2a" stroke="#2a2a2a" stroke-width="0.15" textLength="23.5" lengthAdjust="spacingAndGlyphs" >60 000</text>
<line x1="293.90" y1="378.90" x2="296.90" y2="378.90" stroke="#222" stroke-width="1" />
<text x="291.30" y="381.70" font-size="8.2" text-anchor="end" fill="#2a2a2a" stroke="#2a2a2a" stroke-width="0.15" textLength="23.5" lengthAdjust="spacingAndGlyphs" >80 000</text>
<line x1="293.90" y1="353.75" x2="296.90" y2="353.75" stroke="#222" stroke-width="1" />
<text x="291.30" y="356.55" font-size="8.2" text-anchor="end" fill="#2a2a2a" stroke="#2a2a2a" stroke-width="0.15" textLength="27.5" lengthAdjust="spacingAndGlyphs" >100 000</text>
<line x1="296.90" y1="479.50" x2="487.60" y2="479.50" stroke="#222" stroke-width="1" />
<line x1="297.00" y1="479.50" x2="297.00" y2="482.50" stroke="#222" stroke-width="1" />
<text x="297.00" y="492.60" font-size="8.2" text-anchor="middle" fill="#2a2a2a" stroke="#2a2a2a" stroke-width="0.15" >0.01</text>
<line x1="343.90" y1="479.50" x2="343.90" y2="482.50" stroke="#222" stroke-width="1" />
<text x="343.90" y="492.60" font-size="8.2" text-anchor="middle" fill="#2a2a2a" stroke="#2a2a2a" stroke-width="0.15" >0.1</text>
<line x1="390.80" y1="479.50" x2="390.80" y2="482.50" stroke="#222" stroke-width="1" />
<text x="390.80" y="492.60" font-size="8.2" text-anchor="middle" fill="#2a2a2a" stroke="#2a2a2a" stroke-width="0.15" >1</text>
<line x1="437.70" y1="479.50" x2="437.70" y2="482.50" stroke="#222" stroke-width="1" />
<text x="437.70" y="492.60" font-size="8.2" text-anchor="middle" fill="#2a2a2a" stroke="#2a2a2a" stroke-width="0.15" >10</text>
<line x1="484.60" y1="479.50" x2="484.60" y2="482.50" stroke="#222" stroke-width="1" />
<text x="484.60" y="492.60" font-size="8.2" text-anchor="middle" fill="#2a2a2a" stroke="#2a2a2a" stroke-width="0.15" >100</text>
<text x="393.10" y="505.90" font-size="8.2" text-anchor="middle" fill="#2a2a2a" stroke="#2a2a2a" stroke-width="0.15" textLength="64.8" lengthAdjust="spacingAndGlyphs" >[Antibody] (µg/mL)</text>
<text x="255.90" y="415.20" font-size="8" text-anchor="middle" fill="#2a2a2a" stroke="#2a2a2a" stroke-width="0.15" textLength="67.4" lengthAdjust="spacingAndGlyphs" transform="rotate(-90 255.90 415.20)" >Luminescence (RLU)</text>
<text x="302.70" y="367.20" font-size="8.3" text-anchor="start" fill="#2a2a2a" stroke="#2a2a2a" stroke-width="0.15" textLength="23" lengthAdjust="spacingAndGlyphs" >ADCC</text>
<line x1="303.10" y1="375.90" x2="315.90" y2="375.90" stroke="#8a5a2e" stroke-width="1.5" />
<circle cx="309.50" cy="375.90" r="2.4" fill="#fff" stroke="#8a5a2e" stroke-width="1.3"/>
<text x="319.60" y="378.00" font-size="8" text-anchor="start" fill="#2a2a2a" stroke="#2a2a2a" stroke-width="0.15" textLength="89" lengthAdjust="spacingAndGlyphs" >Anti-CD43 (IgG1, Fc-silent)</text>
<line x1="303.10" y1="387.10" x2="315.90" y2="387.10" stroke="#a9c98f" stroke-width="1.5" />
<rect x="307.10" y="384.70" width="4.80" height="4.80" fill="#a9c98f" />
<text x="319.60" y="389.20" font-size="8" text-anchor="start" fill="#2a2a2a" stroke="#2a2a2a" stroke-width="0.15" textLength="57.3" lengthAdjust="spacingAndGlyphs" >Anti-CD43 (IgG1)</text>
<line x1="303.10" y1="398.30" x2="315.90" y2="398.30" stroke="#c8102e" stroke-width="1.5" />
<circle cx="309.50" cy="398.30" r="2.4" fill="#fff" stroke="#c8102e" stroke-width="1.3"/>
<text x="319.60" y="400.40" font-size="8" text-anchor="start" fill="#2a2a2a" stroke="#2a2a2a" stroke-width="0.15" textLength="24.3" lengthAdjust="spacingAndGlyphs" >Isotype</text>
<line x1="303.10" y1="408.90" x2="315.90" y2="408.90" stroke="#1d4f86" stroke-width="1.5" />
<rect x="307.10" y="406.50" width="4.80" height="4.80" fill="#1d4f86" />
<text x="319.60" y="411.00" font-size="8" text-anchor="start" fill="#2a2a2a" stroke="#2a2a2a" stroke-width="0.15" textLength="43.3" lengthAdjust="spacingAndGlyphs" >INCA033989</text>
<line x1="303.10" y1="418.90" x2="315.90" y2="418.90" stroke="#f29a1c" stroke-width="1.5" />
<path d="M306.62,421.06 L312.38,421.06 L309.50,416.02 Z" fill="#f29a1c" stroke="none" stroke-width="1" />
<text x="319.60" y="421.00" font-size="8" text-anchor="start" fill="#2a2a2a" stroke="#2a2a2a" stroke-width="0.15" textLength="43.3" lengthAdjust="spacingAndGlyphs" >INCA033989</text>
<text x="319.60" y="429.00" font-size="8" text-anchor="start" fill="#2a2a2a" stroke="#2a2a2a" stroke-width="0.15" textLength="46" lengthAdjust="spacingAndGlyphs" >(wtFc version)</text>
<path d="M343.49,459.38 L344.20,459.38 L344.91,459.38 L345.62,459.38 L346.32,459.38 L347.03,459.38 L347.74,459.38 L348.45,459.38 L349.16,459.38 L349.87,459.38 L350.58,459.38 L351.29,459.38 L352.00,459.37 L352.71,459.37 L353.42,459.37 L354.13,459.37 L354.83,459.37 L355.54,459.37 L356.25,459.37 L356.96,459.37 L357.67,459.37 L358.38,459.37 L359.09,459.37 L359.80,459.37 L360.51,459.37 L361.22,459.37 L361.93,459.37 L362.63,459.37 L363.34,459.37 L364.05,459.36 L364.76,459.36 L365.47,459.36 L366.18,459.36 L366.89,459.36 L367.60,459.36 L368.31,459.36 L369.02,459.36 L369.73,459.35 L370.43,459.35 L371.14,459.35 L371.85,459.35 L372.56,459.35 L373.27,459.34 L373.98,459.34 L374.69,459.34 L375.40,459.34 L376.11,459.33 L376.82,459.33 L377.53,459.33 L378.23,459.32 L378.94,459.32 L379.65,459.31 L380.36,459.31 L381.07,459.31 L381.78,459.30 L382.49,459.30 L383.20,459.29 L383.91,459.28 L384.62,459.28 L385.33,459.27 L386.03,459.26 L386.74,459.26 L387.45,459.25 L388.16,459.24 L388.87,459.23 L389.58,459.22 L390.29,459.21 L391.00,459.20 L391.71,459.18 L392.42,459.17 L393.13,459.16 L393.83,459.14 L394.54,459.12 L395.25,459.11 L395.96,459.09 L396.67,459.07 L397.38,459.05 L398.09,459.03 L398.80,459.00 L399.51,458.98 L400.22,458.95 L400.93,458.92 L401.63,458.89 L402.34,458.86 L403.05,458.82 L403.76,458.79 L404.47,458.75 L405.18,458.70 L405.89,458.66 L406.60,458.61 L407.31,458.56 L408.02,458.51 L408.73,458.45 L409.44,458.39 L410.14,458.32 L410.85,458.25 L411.56,458.17 L412.27,458.09 L412.98,458.01 L413.69,457.92 L414.40,457.82 L415.11,457.72 L415.82,457.61 L416.53,457.49 L417.24,457.36 L417.94,457.23 L418.65,457.09 L419.36,456.94 L420.07,456.78 L420.78,456.61 L421.49,456.43 L422.20,456.23 L422.91,456.03 L423.62,455.81 L424.33,455.58 L425.04,455.33 L425.74,455.07 L426.45,454.80 L427.16,454.50 L427.87,454.19 L428.58,453.86 L429.29,453.51 L430.00,453.14 L430.71,452.74 L431.42,452.33 L432.13,451.89 L432.84,451.42 L433.54,450.93 L434.25,450.41 L434.96,449.86 L435.67,449.28 L436.38,448.67 L437.09,448.03 L437.80,447.35 L438.51,446.64 L439.22,445.89 L439.93,445.10 L440.64,444.28 L441.34,443.42 L442.05,442.52 L442.76,441.57 L443.47,440.59 L444.18,439.56 L444.89,438.49 L445.60,437.38 L446.31,436.23 L447.02,435.03 L447.73,433.79 L448.44,432.50 L449.14,431.18 L449.85,429.81 L450.56,428.40 L451.27,426.96 L451.98,425.48 L452.69,423.96 L453.40,422.42 L454.11,420.84 L454.82,419.23 L455.53,417.60 L456.24,415.94 L456.94,414.27 L457.65,412.58 L458.36,410.87 L459.07,409.16 L459.78,407.45 L460.49,405.73 L461.20,404.01 L461.91,402.30 L462.62,400.59 L463.33,398.90 L464.04,397.23 L464.75,395.57 L465.45,393.94 L466.16,392.33 L466.87,390.75 L467.58,389.20 L468.29,387.69 L469.00,386.21 L469.71,384.76 L470.42,383.35 L471.13,381.99 L471.84,380.66 L472.55,379.38 L473.25,378.13 L473.96,376.93 L474.67,375.78 L475.38,374.66 L476.09,373.59 L476.80,372.57 L477.51,371.58 L478.22,370.64 L478.93,369.73 L479.64,368.87 L480.35,368.05 L481.05,367.26 L481.76,366.51 L482.47,365.80 L483.18,365.12 L483.89,364.48 L484.60,363.87" fill="none" stroke="#a9ba8c" stroke-width="1.4" />
<line x1="357.50" y1="456.00" x2="357.50" y2="474.00" stroke="#4a7a9a" stroke-width="0.9" />
<line x1="355.50" y1="456.00" x2="359.50" y2="456.00" stroke="#4a7a9a" stroke-width="0.9" />
<line x1="355.50" y1="474.00" x2="359.50" y2="474.00" stroke="#4a7a9a" stroke-width="0.9" />
<line x1="371.62" y1="456.00" x2="371.62" y2="463.00" stroke="#a9ba8c" stroke-width="0.9" />
<line x1="369.62" y1="456.00" x2="373.62" y2="456.00" stroke="#a9ba8c" stroke-width="0.9" />
<line x1="369.62" y1="463.00" x2="373.62" y2="463.00" stroke="#a9ba8c" stroke-width="0.9" />
<line x1="399.86" y1="455.00" x2="399.86" y2="472.00" stroke="#777" stroke-width="0.9" />
<line x1="397.86" y1="455.00" x2="401.86" y2="455.00" stroke="#777" stroke-width="0.9" />
<line x1="397.86" y1="472.00" x2="401.86" y2="472.00" stroke="#777" stroke-width="0.9" />
<line x1="414.01" y1="458.00" x2="414.01" y2="463.00" stroke="#a9ba8c" stroke-width="0.9" />
<line x1="412.01" y1="458.00" x2="416.01" y2="458.00" stroke="#a9ba8c" stroke-width="0.9" />
<line x1="412.01" y1="463.00" x2="416.01" y2="463.00" stroke="#a9ba8c" stroke-width="0.9" />
<line x1="428.13" y1="451.00" x2="428.13" y2="470.50" stroke="#777" stroke-width="0.9" />
<line x1="426.13" y1="451.00" x2="430.13" y2="451.00" stroke="#777" stroke-width="0.9" />
<line x1="426.13" y1="470.50" x2="430.13" y2="470.50" stroke="#777" stroke-width="0.9" />
<line x1="442.25" y1="454.70" x2="442.25" y2="468.00" stroke="#1d4f86" stroke-width="0.9" />
<line x1="440.25" y1="454.70" x2="444.25" y2="454.70" stroke="#1d4f86" stroke-width="0.9" />
<line x1="440.25" y1="468.00" x2="444.25" y2="468.00" stroke="#1d4f86" stroke-width="0.9" />
<line x1="456.36" y1="456.00" x2="456.36" y2="468.00" stroke="#8a9a30" stroke-width="0.9" />
<line x1="454.36" y1="456.00" x2="458.36" y2="456.00" stroke="#8a9a30" stroke-width="0.9" />
<line x1="454.36" y1="468.00" x2="458.36" y2="468.00" stroke="#8a9a30" stroke-width="0.9" />
<line x1="470.48" y1="452.00" x2="470.48" y2="466.00" stroke="#f29a1c" stroke-width="0.9" />
<line x1="468.48" y1="452.00" x2="472.48" y2="452.00" stroke="#f29a1c" stroke-width="0.9" />
<line x1="468.48" y1="466.00" x2="472.48" y2="466.00" stroke="#f29a1c" stroke-width="0.9" />
<line x1="484.60" y1="457.00" x2="484.60" y2="462.00" stroke="#1d4f86" stroke-width="0.9" />
<line x1="482.60" y1="457.00" x2="486.60" y2="457.00" stroke="#1d4f86" stroke-width="0.9" />
<line x1="482.60" y1="462.00" x2="486.60" y2="462.00" stroke="#1d4f86" stroke-width="0.9" />
<path d="M343.49,470 L357.50,465 L484.60,464.5" fill="none" stroke="#1d4f86" stroke-width="1.3" />
<line x1="343.49" y1="463.80" x2="484.60" y2="463.60" stroke="#5a3a20" stroke-width="1.5" />
<path d="M343.49,462.40 L344.91,462.40 L346.34,462.40 L347.76,462.40 L349.19,462.40 L350.62,462.40 L352.04,462.40 L353.47,462.40 L354.89,462.40 L356.32,462.40 L357.74,462.40 L359.17,462.40 L360.59,462.40 L362.02,462.40 L363.44,462.40 L364.87,462.40 L366.29,462.40 L367.72,462.40 L369.15,462.40 L370.57,462.40 L372.00,462.40 L373.42,462.40 L374.85,462.40 L376.27,462.40 L377.70,462.40 L379.12,462.40 L380.55,462.40 L381.97,462.40 L383.40,462.40 L384.82,462.40 L386.25,462.40 L387.67,462.40 L389.10,462.40 L390.53,462.40 L391.95,462.40 L393.38,462.40 L394.80,462.40 L396.23,462.40 L397.65,462.40 L399.08,462.39 L400.50,462.39 L401.93,462.39 L403.35,462.39 L404.78,462.39 L406.20,462.39 L407.63,462.39 L409.06,462.39 L410.48,462.39 L411.91,462.39 L413.33,462.38 L414.76,462.38 L416.18,462.38 L417.61,462.38 L419.03,462.37 L420.46,462.37 L421.88,462.37 L423.31,462.36 L424.73,462.36 L426.16,462.35 L427.59,462.34 L429.01,462.34 L430.44,462.33 L431.86,462.32 L433.29,462.30 L434.71,462.29 L436.14,462.27 L437.56,462.25 L438.99,462.23 L440.41,462.21 L441.84,462.18 L443.26,462.15 L444.69,462.11 L446.12,462.06 L447.54,462.01 L448.97,461.96 L450.39,461.89 L451.82,461.82 L453.24,461.73 L454.67,461.64 L456.09,461.52 L457.52,461.40 L458.94,461.25 L460.37,461.09 L461.79,460.90 L463.22,460.68 L464.64,460.44 L466.07,460.17 L467.50,459.86 L468.92,459.51 L470.35,459.12 L471.77,458.68 L473.20,458.19 L474.62,457.65 L476.05,457.05 L477.47,456.39 L478.90,455.68 L480.32,454.89 L481.75,454.05 L483.17,453.15 L484.60,452.18" fill="none" stroke="#f29a1c" stroke-width="2.4" />
<rect x="482.20" y="360.90" width="4.80" height="4.80" fill="#b3c394" />
<rect x="468.08" y="380.00" width="4.80" height="4.80" fill="#b3c394" />
<rect x="453.96" y="428.20" width="4.80" height="4.80" fill="#b3c394" />
<rect x="439.85" y="431.20" width="4.80" height="4.80" fill="#b3c394" />
<rect x="425.73" y="449.90" width="4.80" height="4.80" fill="#b3c394" />
<rect x="411.61" y="456.60" width="4.80" height="4.80" fill="#b3c394" />
<rect x="397.46" y="455.30" width="4.80" height="4.80" fill="#b3c394" />
<rect x="383.34" y="456.10" width="4.80" height="4.80" fill="#b3c394" />
<rect x="369.22" y="456.40" width="4.80" height="4.80" fill="#b3c394" />
<rect x="355.10" y="454.80" width="4.80" height="4.80" fill="#b3c394" />
<rect x="341.09" y="458.10" width="4.80" height="4.80" fill="#b3c394" />
<rect x="341.19" y="467.70" width="4.60" height="4.60" fill="#1d4f86" />
<rect x="355.20" y="466.30" width="4.60" height="4.60" fill="#1d4f86" />
<rect x="411.71" y="467.10" width="4.60" height="4.60" fill="#1d4f86" />
<rect x="425.83" y="457.40" width="4.60" height="4.60" fill="#1d4f86" />
<rect x="439.95" y="460.70" width="4.60" height="4.60" fill="#1d4f86" />
<rect x="482.30" y="455.60" width="4.60" height="4.60" fill="#1d4f86" />
<circle cx="357.50" cy="467.20" r="2.2" fill="#2a8a80" stroke="#2a9a70" stroke-width="0.8"/>
<rect x="383.54" y="461.20" width="4.40" height="4.40" fill="#9ab88a" />
<circle cx="343.49" cy="465.30" r="2.5" fill="#3a3535" stroke="#5a3a22" stroke-width="1.1"/>
<circle cx="357.50" cy="461.20" r="2.5" fill="#3a3535" stroke="#5a3a22" stroke-width="1.1"/>
<circle cx="371.62" cy="467.80" r="2.5" fill="#3a3535" stroke="#5a3a22" stroke-width="1.1"/>
<circle cx="385.74" cy="458.80" r="2.5" fill="#e0903a" stroke="#5a3a22" stroke-width="1.1"/>
<circle cx="399.86" cy="466.40" r="2.5" fill="#3a3535" stroke="#5a3a22" stroke-width="1.1"/>
<circle cx="442.25" cy="469.10" r="2.5" fill="#d07a30" stroke="#5a3a22" stroke-width="1.1"/>
<circle cx="456.36" cy="468.50" r="2.5" fill="#3a3535" stroke="#5a3a22" stroke-width="1.1"/>
<circle cx="470.48" cy="469.00" r="2.5" fill="#3a3535" stroke="#5a3a22" stroke-width="1.1"/>
<circle cx="428.13" cy="463.00" r="2.4" fill="#9aa030" stroke="#6a8a20" stroke-width="0.9"/>
<circle cx="456.36" cy="463.20" r="2.4" fill="#9aa030" stroke="#6a8a20" stroke-width="0.9"/>
<circle cx="470.48" cy="462.50" r="2.4" fill="#9aa030" stroke="#6a8a20" stroke-width="0.9"/>
<circle cx="343.49" cy="473.50" r="2.6" fill="#fff" stroke="#2fa040" stroke-width="1.3"/>
<circle cx="385.74" cy="469.40" r="2.6" fill="#fff" stroke="#2fa040" stroke-width="1.3"/>
<circle cx="484.60" cy="468.50" r="2.6" fill="#fff" stroke="#2fa040" stroke-width="1.3"/></svg>
<div class="fb"></div><div class="fr"></div><div class="frame"></div>
</body></html>
